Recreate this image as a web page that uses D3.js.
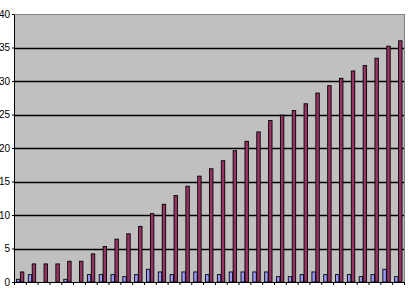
<!DOCTYPE html>
<html>
<head>
<meta charset="utf-8">
<script src="https://cdn.jsdelivr.net/npm/d3@7"></script>
<style>
  body { margin: 0; background: #fff; }
  svg { display: block; }
  .axis text { font-family: "Liberation Sans Narrow", "Liberation Sans", Arial, sans-serif; font-size: 10px; fill: #000; }
</style>
</head>
<body>
<div id="chart"></div>
<script>
// categories (no labels shown on the axis)
const categories = d3.range(1, 34).map(String);
const seriesNames = ["blue", "maroon"];
const blueValues = [0.4, 1.1, 0, 0, 0.4, 0, 1.1, 1.1, 1.1, 0.8, 1.1, 1.9, 1.5, 1.1, 1.5, 1.5, 1.1,
  1.1, 1.5, 1.5, 1.5, 1.5, 0.8, 0.8, 1.1, 1.5, 1.1, 1.1, 1.1, 0.8, 1.1, 1.9, 0.8];
const maroonValues = [1.5, 2.7, 2.7, 2.7, 3.1, 3.1, 4.2, 5.3, 6.4, 7.2, 8.3, 10.2, 11.6, 12.9, 14.3,
  15.8, 16.9, 18.1, 19.6, 21.0, 22.4, 24.1, 24.9, 25.6, 26.6, 28.2, 29.3, 30.4, 31.5, 32.3, 33.4, 35.2, 36.0];
const yTicks = [0, 5, 10, 15, 20, 25, 30, 35, 40];

const width = 408, height = 290;
const margin = {top: 14, right: 4, bottom: 8, left: 14};
const w = width - margin.left - margin.right;
const h = height - margin.top - margin.bottom;

const colors = {blue: "#9999ff", maroon: "#993366"};

const svg = d3.select("#chart").append("svg")
    .attr("width", width)
    .attr("height", height);

const g = svg.append("g")
    .attr("transform", "translate(" + margin.left + "," + margin.top + ")");

const y = d3.scaleLinear().domain([0, 40]).range([h, 0]);
const x0 = d3.scaleBand().domain(categories).range([0, w]).padding(0);
const x1 = d3.scaleBand().domain(seriesNames).range([0, x0.bandwidth()])
    .paddingInner(0).paddingOuter(0.5);
const xTick = d3.scaleLinear().domain([0, categories.length]).range([0, w]);

// plot area
g.append("rect")
    .attr("width", w)
    .attr("height", h)
    .attr("fill", "#c0c0c0")
    .attr("stroke", "#808080")
    .attr("stroke-width", 1)
    .attr("shape-rendering", "crispEdges");

// gridlines
g.append("g")
    .selectAll("line")
    .data(yTicks.filter(d => d > 0 && d < 40))
    .join("line")
    .attr("x1", 0)
    .attr("x2", w)
    .attr("y1", d => Math.round(y(d)) + 0.5)
    .attr("y2", d => Math.round(y(d)) + 0.5)
    .attr("stroke", "#000")
    .attr("stroke-width", 1.3);

// bars
const rows = categories.map((c, i) => ({cat: c, blue: blueValues[i], maroon: maroonValues[i]}));
const groups = g.append("g")
    .selectAll("g")
    .data(rows)
    .join("g")
    .attr("transform", d => "translate(" + x0(d.cat) + ",0)");

groups.selectAll("rect")
    .data(d => seriesNames.map(s => ({key: s, value: d[s]})).filter(d => d.value > 0))
    .join("rect")
    .attr("x", d => x1(d.key) + 0.5)
    .attr("y", d => y(d.value))
    .attr("width", x1.bandwidth() - 0.5)
    .attr("height", d => h - y(d.value))
    .attr("fill", d => colors[d.key])
    .attr("stroke", "#000")
    .attr("stroke-width", 0.9);

// axes
g.append("g")
    .attr("class", "axis")
    .attr("transform", "translate(0," + h + ")")
    .call(d3.axisBottom(xTick).tickValues(d3.range(categories.length + 1)).tickFormat("").tickSize(3))
    .call(a => a.selectAll("path, line").attr("stroke", "#000"));

g.append("g")
    .attr("class", "axis")
    .call(d3.axisLeft(y).tickValues(yTicks).tickSize(2).tickSizeOuter(0).tickPadding(2))
    .call(a => a.selectAll("path, line").attr("stroke", "#000"));
</script>
</body>
</html>
